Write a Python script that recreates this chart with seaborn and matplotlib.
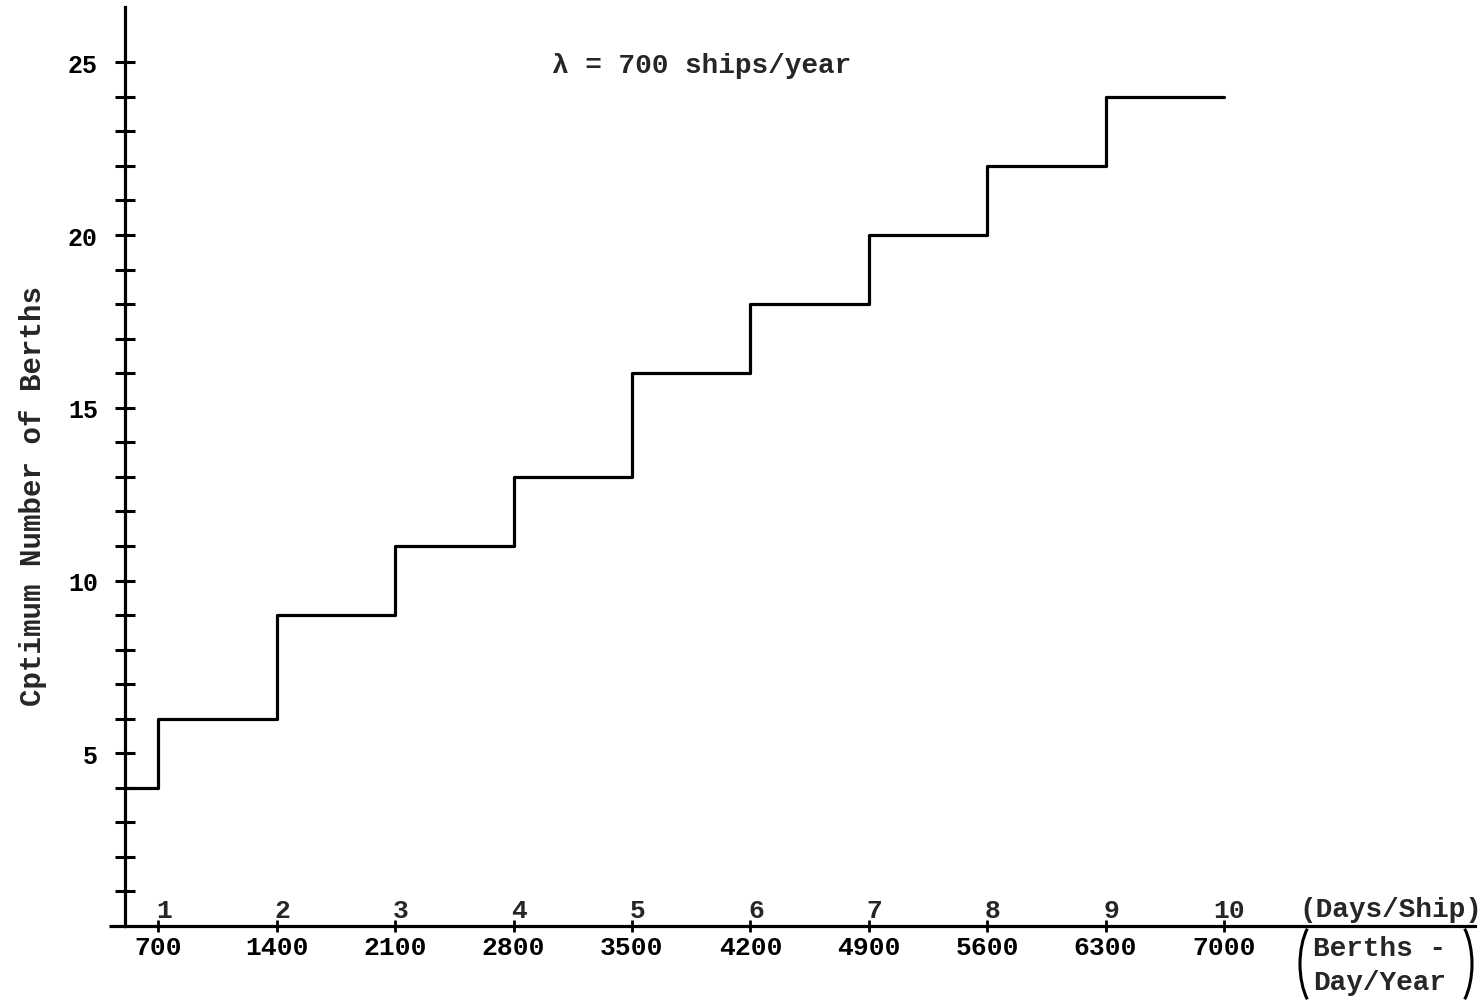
import matplotlib
matplotlib.use("Agg")
import matplotlib.pyplot as plt
from matplotlib.patches import Arc
import seaborn as sns

# step chart data
days_per_ship = [0, 1, 2, 3, 4, 5, 6, 7, 8, 9, 10]
optimum_berths = [4, 6, 9, 11, 13, 16, 18, 20, 22, 24, 24]
tick_days = [1, 2, 3, 4, 5, 6, 7, 8, 9, 10]
tick_berth_days = ["700", "1400", "2100", "2800", "3500", "4200", "4900", "5600", "6300", "7000"]
y_major = [5, 10, 15, 20, 25]
y_minor = list(range(1, 26))

sns.set_style("white")
plt.rcParams["font.family"] = ["Liberation Mono", "DejaVu Sans Mono"]
plt.rcParams["font.weight"] = "bold"

fig = plt.figure(figsize=(14.8, 10.04), dpi=100)
ax = fig.add_axes([125 / 1480, 77 / 1004, 1350 / 1480, 919 / 1004])

sns.lineplot(x=days_per_ship, y=optimum_berths, drawstyle="steps-post",
             color="black", lw=2.3, estimator=None, ax=ax)

ax.set_xlim(0.718, 12.12)
ax.set_ylim(0, 26.6)

# axes look: only the two crossing lines
for side in ["top", "right"]:
    ax.spines[side].set_visible(False)
for side in ["left", "bottom"]:
    ax.spines[side].set_linewidth(2.3)
    ax.spines[side].set_color("black")
ax.plot([-0.012, 0], [0, 0], transform=ax.transAxes, color="black",
        lw=2.3, clip_on=False, solid_capstyle="butt")

ax.set_yticks(y_major)
ax.set_yticks(y_minor, minor=True)
ax.tick_params(axis="y", which="both", left=True, direction="inout", length=15,
               width=2.2, labelsize=18, pad=12, colors="black")
ax.set_xticks(tick_days)
ax.set_xticklabels(tick_berth_days)
ax.tick_params(axis="x", bottom=True, direction="inout", length=9, width=2,
               labelsize=19, pad=2, colors="black")

# days/ship numbers sit above the axis
for d in tick_days:
    ax.annotate(str(d), xy=(d, 0), xytext=(4, 3), textcoords="offset points",
                ha="center", va="bottom", fontsize=19)

ax.set_ylabel("Cptimum Number of Berths", fontsize=21, fontweight="bold")
ax.yaxis.set_label_coords(-0.058, 0.469)

ax.text(0.316, 0.937, "\u03bb = 700 ships/year", transform=ax.transAxes,
        ha="left", va="center", fontsize=20)

# unit labels at the right end of the x axis
ax.text(0.870, 0.004, "(Days/Ship)", transform=ax.transAxes,
        ha="left", va="bottom", fontsize=20)
ax.text(0.880, -0.010, "Berths -\nDay/Year", transform=ax.transAxes,
        ha="left", va="top", fontsize=20, linespacing=1.4)
# tall brackets round the two-line unit, sized in inches
for cx, t1, t2 in [(13.25, 116.6, 243.4), (14.47, -63.4, 63.4)]:
    fig.add_artist(Arc((cx, 10.04 - 9.65), 0.5, 1.0, theta1=t1, theta2=t2,
                       transform=fig.dpi_scale_trans, color="black", lw=2.2))

fig.savefig("out.png", dpi=100)
